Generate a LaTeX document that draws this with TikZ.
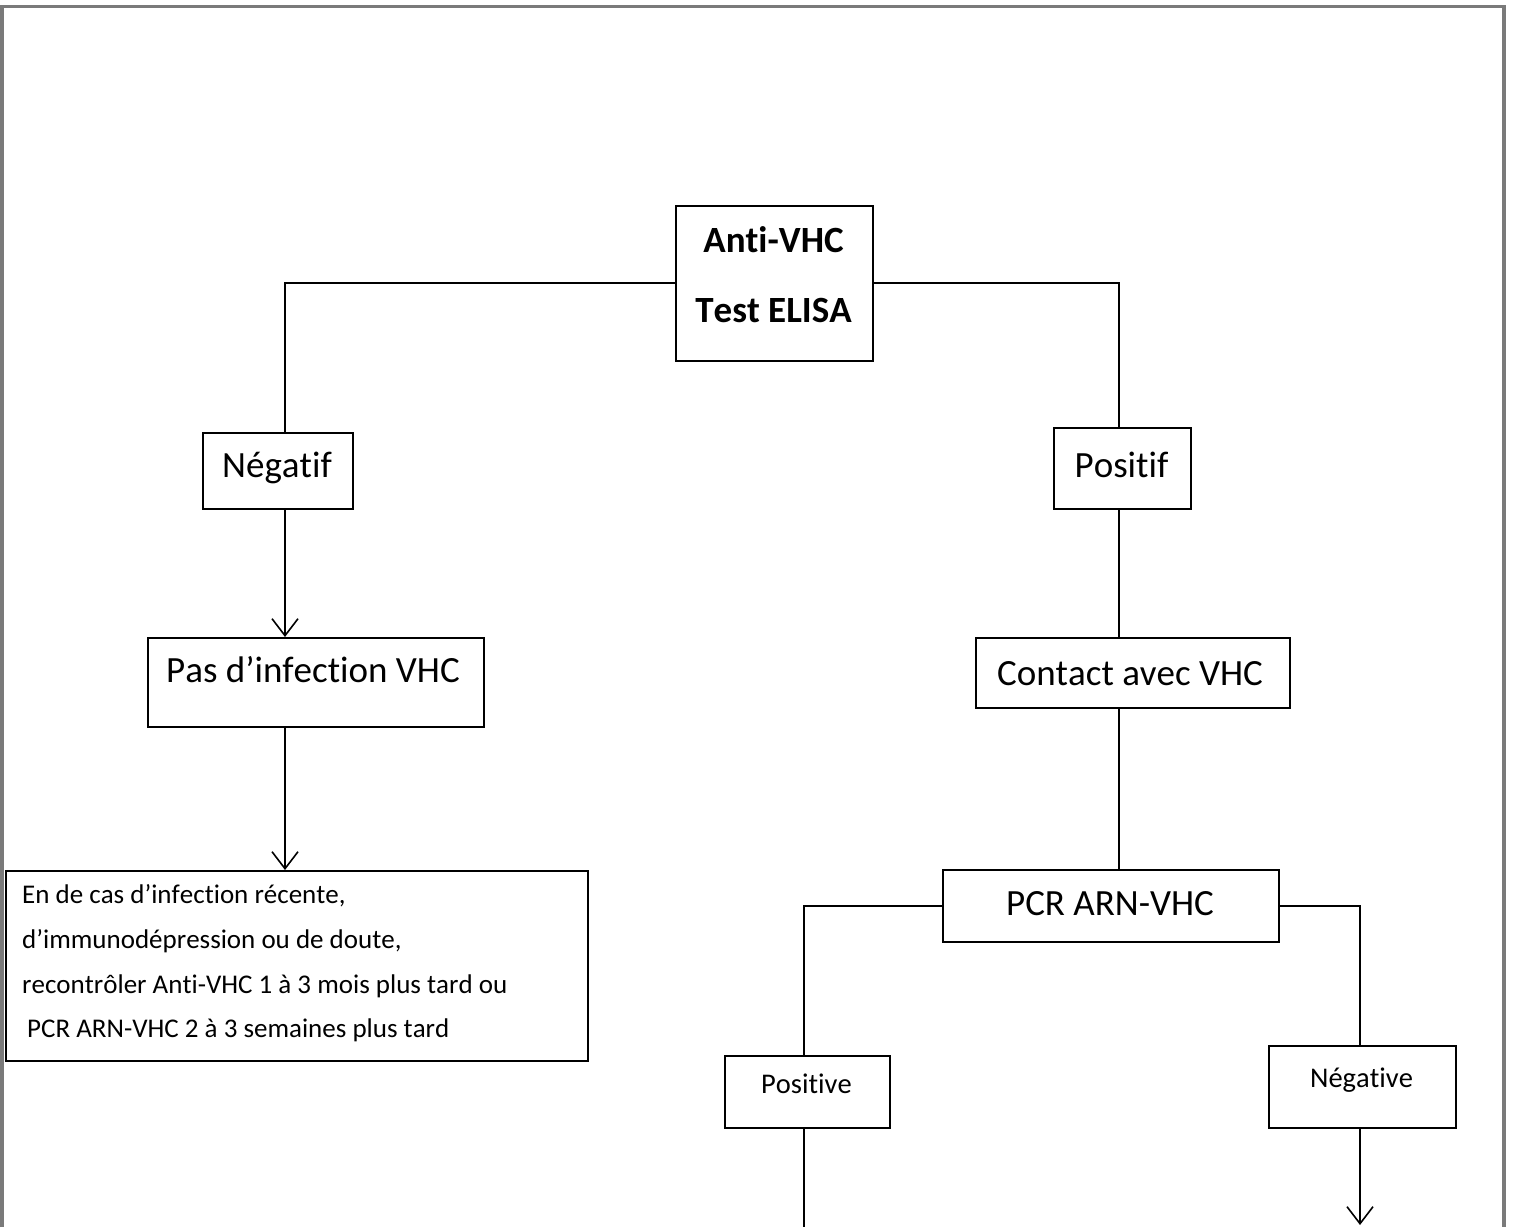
\documentclass[tikz,border=0pt]{standalone}
\usepackage{fontspec}
\setmainfont{Carlito}[Ligatures=NoCommon, Kerning=Off]
\usetikzlibrary{arrows.meta}
\definecolor{framegray}{RGB}{122,122,122}
\begin{document}
\begin{tikzpicture}[x=1pt,y=-1pt,
  box/.style={draw, line width=1.5pt, inner sep=0pt, anchor=north west},
  lbl/.style={anchor=base, inner sep=0pt},
  notetext/.style={anchor=base west, inner sep=0pt, font=\fontsize{27}{32}\selectfont},
  large/.style={font=\fontsize{37}{44}\selectfont},
  small/.style={font=\fontsize{28.5}{34}\selectfont},
  conn/.style={draw, line width=1.6pt},
  arr/.style={conn, -{Straight Barb[length=17pt,width=26pt]}}
]
% page size and outer frame (open at the bottom)
\useasboundingbox (0,0) rectangle (1515,1227);
\draw[framegray, line width=3.5pt] (1.75,1227) -- (1.75,6.5) -- (1504,6.5) -- (1504,1227);

% boxes
\node[box, minimum width=197pt, minimum height=155pt] (top) at (675,205) {};
\node[box, minimum width=150pt, minimum height=76pt] (neg) at (202,432) {};
\node[box, minimum width=336pt, minimum height=89pt] (pas) at (147,637) {};
\node[box, minimum width=582pt, minimum height=190pt] (note) at (5,870) {};
\node[box, minimum width=137pt, minimum height=81pt] (pos) at (1053,427) {};
\node[box, minimum width=314pt, minimum height=70pt] (contact) at (975,637) {};
\node[box, minimum width=336pt, minimum height=72pt] (pcr) at (942,869) {};
\node[box, minimum width=165pt, minimum height=72pt] (posv) at (724,1055) {};
\node[box, minimum width=187pt, minimum height=82pt] (negv) at (1268,1045) {};

% labels
\node[lbl, large] (topA) at (773.5,252) {\bfseries Anti-VHC};
\node[lbl, large] (topB) at (773.5,322) {\bfseries Test ELISA};
\node[lbl, large] (negT) at (277,477) {Négatif};
\node[lbl, large] (pasT) at (313,682) {Pas d’infection VHC};
\node[lbl, large] (posT) at (1121.5,477) {Positif};
\node[lbl, large] (contactT) at (1130,685) {Contact avec VHC};
\node[lbl, large] (pcrT) at (1110,915) {PCR ARN-VHC};
\node[lbl, small] (posvT) at (806.5,1093) {Positive};
\node[lbl, small] (negvT) at (1361.5,1087) {Négative};
\node[notetext] (n1) at (22,903) {En de cas d’infection récente,};
\node[notetext] (n2) at (22,948) {d’immunodépression ou de doute,};
\node[notetext] (n3) at (22,993) {recontrôler Anti-VHC 1 à 3 mois plus tard ou};
\node[notetext] (n4) at (27,1037) {PCR ARN-VHC 2 à 3 semaines plus tard};

% trunk positions of the connectors
\coordinate (xL) at (285,0);
\coordinate (xR) at (1119,0);
\coordinate (xP) at (804,0);
\coordinate (xN) at (1360,0);
\coordinate (pageEnd) at (0,1227);
\coordinate (tipN) at (1360,1225);

% connectors
\draw[conn] (top.west) -| (xL |- neg.north);
\draw[conn] (top.east) -| (xR |- pos.north);
\draw[arr] (xL |- neg.south) -- (xL |- pas.north);
\draw[arr] (xL |- pas.south) -- (xL |- note.north);
\draw[conn] (xR |- pos.south) -- (xR |- contact.north);
\draw[conn] (xR |- contact.south) -- (xR |- pcr.north);
\draw[conn] (pcr.west) -| (xP |- posv.north);
\draw[conn] (pcr.east) -| (xN |- negv.north);
\draw[conn] (xP |- posv.south) -- (xP |- pageEnd);
\draw[arr] (xN |- negv.south) -- (tipN);
\end{tikzpicture}
\end{document}
